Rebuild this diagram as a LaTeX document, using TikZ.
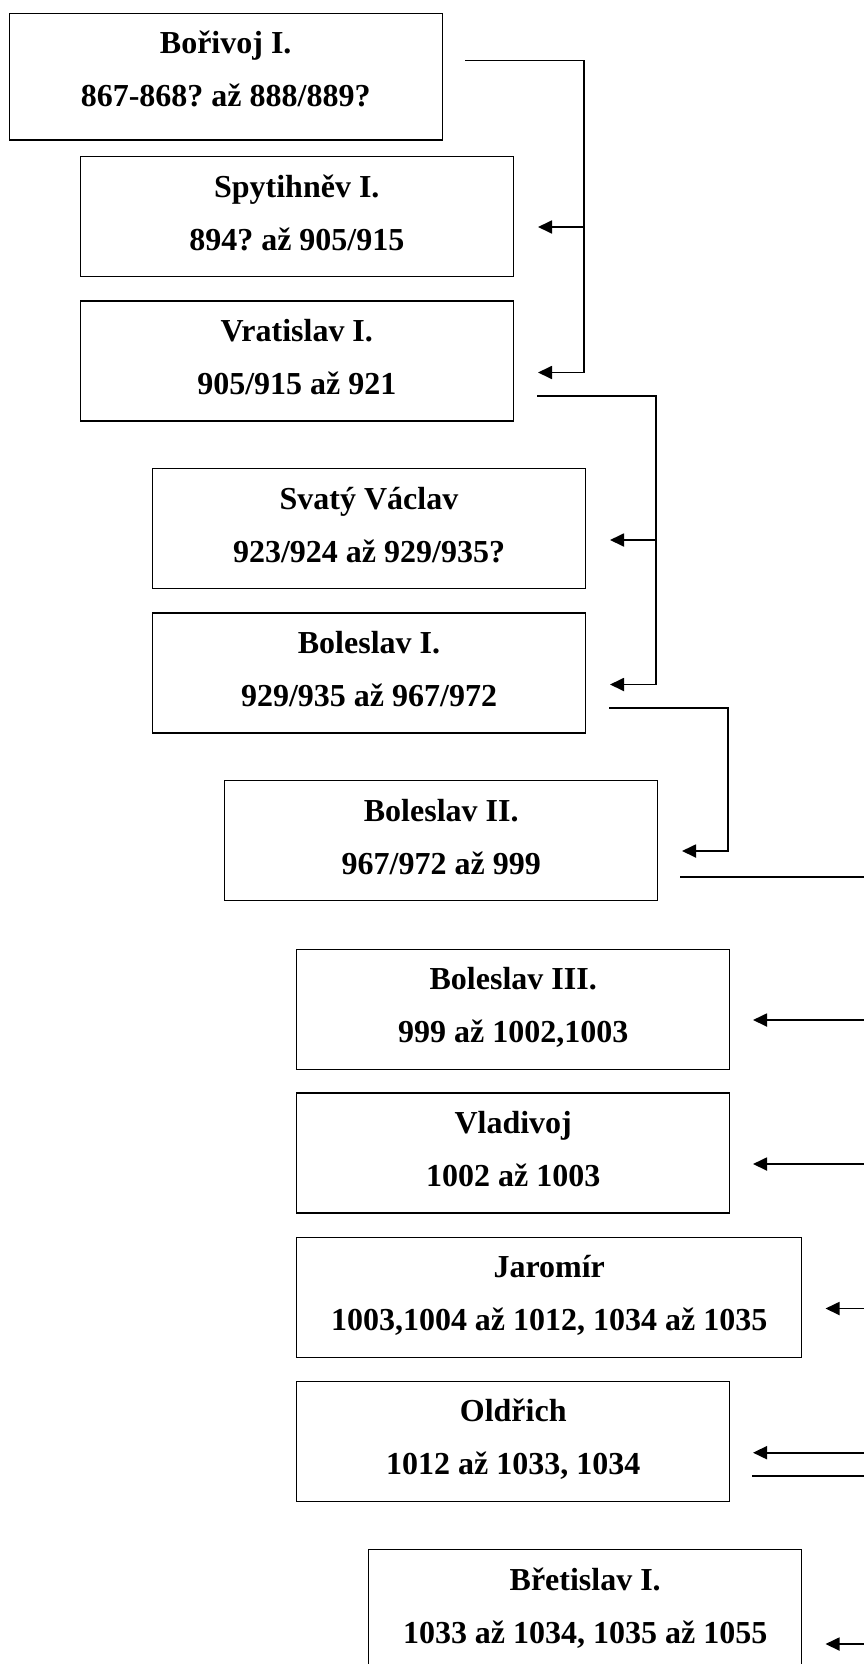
\documentclass[tikz,border=0pt]{standalone}
\usepackage{fontspec}
\setmainfont{Liberation Serif}
\usetikzlibrary{arrows.meta}
\frenchspacing
\newcommand\kingtext[4]{\parbox[c][#2pt][t]{#1pt}{\centering\rule{0pt}{40.5pt}#3\\#4}}
\begin{document}
\begin{tikzpicture}[x=1pt,y=-1pt,
  box/.style={draw, line width=1.4pt, anchor=north west, inner sep=0pt,
    font=\bfseries\fontsize{32}{53}\selectfont},
  conn/.style={line width=1.8pt},
  arr/.style={line width=1.8pt, -{Triangle[length=14pt,width=13pt]}}]
\useasboundingbox (0,0) rectangle (864,1664);
\clip (0,0) rectangle (864,1664);
% boxes
\node[box] (b1) at (8.5,12.7) {\kingtext{433}{126.6}{Bořivoj I.}{867-868? až 888/889?}};
\node[box] (b2) at (79.6,156) {\kingtext{433}{120}{Spytihněv I.}{894? až 905/915}};
\node[box] (b3) at (79.6,300.4) {\kingtext{433}{120}{Vratislav I.}{905/915 až 921}};
\node[box] (b4) at (151.8,468) {\kingtext{433}{120}{Svatý Václav}{923/924 až 929/935?}};
\node[box] (b5) at (151.8,612.4) {\kingtext{433}{120}{Boleslav I.}{929/935 až 967/972}};
\node[box] (b6) at (224,780) {\kingtext{433}{120}{Boleslav II.}{967/972 až 999}};
\node[box] (b7) at (296,948.5) {\kingtext{433}{120}{Boleslav III.}{999 až 1002,1003}};
\node[box] (b8) at (296,1092.3) {\kingtext{433}{120}{Vladivoj}{1002 až 1003}};
\node[box] (b9) at (296,1236.6) {\kingtext{505}{120}{Jaromír}{1003,1004 až 1012, 1034 až 1035}};
\node[box] (b10) at (296,1380.7) {\kingtext{433}{120}{Oldřich}{1012 až 1033, 1034}};
\node[box] (b11) at (368,1549) {\kingtext{433}{120}{Břetislav I.}{1033 až 1034, 1035 až 1055}};
% connector points
\coordinate (s1) at (465,60.5);
\coordinate (v1) at (584,372.5);
\coordinate (j1) at (584,227);
\coordinate (t2) at (538,227);
\coordinate (t3) at (538,372.5);
\coordinate (s2) at (537,396);
\coordinate (v2) at (656,684.5);
\coordinate (j2) at (656,540);
\coordinate (t4) at (610,540);
\coordinate (t5) at (610,684.5);
\coordinate (s3) at (609,708);
\coordinate (v3) at (728,851);
\coordinate (t6) at (682,851);
\coordinate (s4) at (680,877);
\coordinate (e4) at (864,877);
\coordinate (e7) at (864,1020);
\coordinate (t7) at (753,1020);
\coordinate (e8) at (864,1164);
\coordinate (t8) at (753,1164);
\coordinate (e9) at (864,1308.5);
\coordinate (t9) at (825.5,1308.5);
\coordinate (e10) at (864,1452.7);
\coordinate (t10) at (753,1452.7);
\coordinate (s10) at (752,1476);
\coordinate (e10b) at (864,1476);
\coordinate (e11) at (864,1644);
\coordinate (t11) at (825.5,1644);
% connectors
\draw[arr] (s1) -| (v1) -- (t3);
\draw[arr] (j1) -- (t2);
\draw[arr] (s2) -| (v2) -- (t5);
\draw[arr] (j2) -- (t4);
\draw[arr] (s3) -| (v3) -- (t6);
\draw[conn] (s4) -- (e4);
\draw[arr] (e7) -- (t7);
\draw[arr] (e8) -- (t8);
\draw[arr] (e9) -- (t9);
\draw[arr] (e10) -- (t10);
\draw[conn] (s10) -- (e10b);
\draw[arr] (e11) -- (t11);
\end{tikzpicture}
\end{document}
